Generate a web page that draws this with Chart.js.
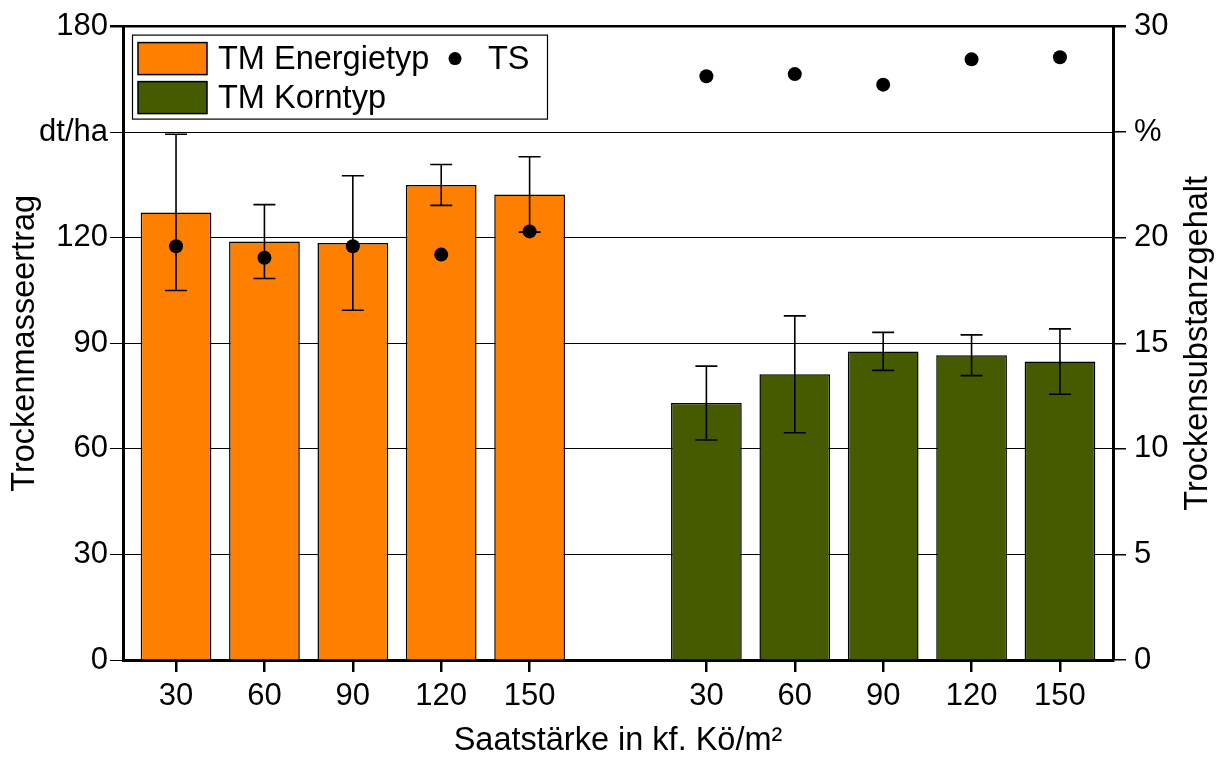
<!DOCTYPE html>
<html>
<head>
<meta charset="utf-8">
<title>Trockenmasseertrag und Trockensubstanzgehalt</title>
<script src="https://cdn.jsdelivr.net/npm/chart.js@4/dist/chart.umd.min.js"></script>
<style>
  html, body { margin: 0; padding: 0; background: #fff; }
  #wrap { width: 1224px; height: 757px; }
</style>
</head>
<body>
<div id="wrap"><canvas id="c" width="1224" height="757"></canvas></div>
<script>
// Saatstärke (kf. Kö/m²) – same steps for both types
const saatstaerke = ['30', '60', '90', '120', '150'];

// Trockenmasseertrag in dt/ha (mean and standard deviation)
const energieTM = [127.2, 118.9, 118.5, 135.0, 132.3];
const energieSD = [22.2, 10.5, 19.1, 5.8, 10.7];
const kornTM = [73.0, 81.2, 87.7, 86.6, 84.8];
const kornSD = [10.5, 16.6, 5.4, 5.8, 9.3];

// Trockensubstanzgehalt in %
const energieTS = [19.6, 19.05, 19.6, 19.2, 20.3];
const kornTS = [27.65, 27.75, 27.25, 28.45, 28.55];

// Axis tick labels (unit shown in place of one tick value)
const tmTickLabels = ['0', '30', '60', '90', '120', 'dt/ha', '180'];
const tsTickLabels = ['0', '5', '10', '15', '20', '%', '30'];

const FONT = '"Liberation Sans", Arial, Helvetica, sans-serif';
const TICK_SIZE = 31;
const TEXT_SIZE = 32.5;

// Slot index on the x axis: one empty slot separates the two groups
const GAP = 1;
const energieX = saatstaerke.map((_, i) => i);
const kornX = saatstaerke.map((_, i) => i + saatstaerke.length + GAP);
const allX = energieX.concat(kornX);

const toPoints = (xs, ys) => xs.map((x, i) => ({ x: x, y: ys[i] }));

// Whiskers for ± standard deviation, drawn right after each bar dataset
const errorBarPlugin = {
  id: 'errorBars',
  afterDatasetDraw(chart, args) {
    const ds = chart.data.datasets[args.index];
    if (!ds.errorBars) return;
    const ctx = chart.ctx;
    const xs = chart.scales.x;
    const ys = chart.scales[ds.yAxisID || 'y'];
    ctx.save();
    ctx.strokeStyle = '#000';
    ctx.lineWidth = 1.6;
    ds.data.forEach((p, i) => {
      const err = ds.errorBars[i];
      const px = xs.getPixelForValue(p.x);
      const yTop = ys.getPixelForValue(p.y + err);
      const yBot = ys.getPixelForValue(p.y - err);
      const cap = 11;
      ctx.beginPath();
      ctx.moveTo(px, yTop); ctx.lineTo(px, yBot);
      ctx.moveTo(px - cap, yTop); ctx.lineTo(px + cap, yTop);
      ctx.moveTo(px - cap, yBot); ctx.lineTo(px + cap, yBot);
      ctx.stroke();
    });
    ctx.restore();
  }
};

// Framed legend in the upper left corner of the plot
const boxLegendPlugin = {
  id: 'boxLegend',
  afterDraw(chart) {
    const { ctx, chartArea } = chart;
    const ds = chart.data.datasets;
    const x0 = chartArea.left + 9;
    const y0 = chartArea.top + 8;
    const w = 416, h = 85;
    ctx.save();
    ctx.fillStyle = '#fff';
    ctx.fillRect(x0, y0, w, h);
    ctx.strokeStyle = '#000';
    ctx.lineWidth = 1.2;
    ctx.strokeRect(x0 + 0.5, y0 + 0.5, w - 1, h - 1);

    ctx.font = TEXT_SIZE + 'px ' + FONT;
    ctx.textBaseline = 'middle';
    ctx.textAlign = 'left';
    [[ds[0], y0 + 8], [ds[1], y0 + 47]].forEach(([d, y]) => {
      ctx.fillStyle = d.backgroundColor;
      ctx.fillRect(x0 + 6, y, 69, 32);
      ctx.lineWidth = 1.5;
      ctx.strokeStyle = '#000';
      ctx.strokeRect(x0 + 6, y, 69, 32);
      ctx.fillStyle = '#000';
      ctx.fillText(d.label, x0 + 86, y + 17);
    });

    ctx.fillStyle = ds[2].backgroundColor;
    ctx.beginPath();
    ctx.arc(x0 + 323, y0 + 24, 6.5, 0, Math.PI * 2);
    ctx.fill();
    ctx.fillStyle = '#000';
    ctx.fillText(ds[2].label, x0 + 356, y0 + 25);
    ctx.restore();
  }
};

// Right axis title, reading bottom to top like the left one
const rightTitlePlugin = {
  id: 'rightTitle',
  afterDraw(chart) {
    const s = chart.scales.y2;
    const ctx = chart.ctx;
    ctx.save();
    ctx.translate(s.right - 26, (s.top + s.bottom) / 2);
    ctx.rotate(-Math.PI / 2);
    ctx.font = TEXT_SIZE + 'px ' + FONT;
    ctx.fillStyle = '#000';
    ctx.textAlign = 'center';
    ctx.textBaseline = 'middle';
    ctx.fillText('Trockensubstanzgehalt', 0, 0);
    ctx.restore();
  }
};

new Chart(document.getElementById('c'), {
  type: 'bar',
  data: {
    datasets: [
      {
        label: 'TM Energietyp',
        data: toPoints(energieX, energieTM),
        errorBars: energieSD,
        backgroundColor: '#FF8000',
        borderColor: '#000',
        borderWidth: 1.5,
        grouped: false,
        categoryPercentage: 1,
        barPercentage: 0.8,
        order: 1
      },
      {
        label: 'TM Korntyp',
        data: toPoints(kornX, kornTM),
        errorBars: kornSD,
        backgroundColor: '#465A00',
        borderColor: '#000',
        borderWidth: 1.5,
        grouped: false,
        categoryPercentage: 1,
        barPercentage: 0.8,
        order: 1
      },
      {
        type: 'scatter',
        label: 'TS',
        yAxisID: 'y2',
        data: toPoints(energieX, energieTS).concat(toPoints(kornX, kornTS)),
        backgroundColor: '#000',
        borderColor: '#000',
        pointRadius: 7,
        pointBorderWidth: 0,
        showLine: false,
        order: 0
      }
    ]
  },
  options: {
    responsive: false,
    devicePixelRatio: 1,
    animation: false,
    layout: { padding: { top: 24, right: 0, bottom: 0, left: 0 } },
    plugins: {
      legend: { display: false },
      tooltip: { enabled: false }
    },
    scales: {
      x: {
        type: 'linear',
        position: 'bottom',
        min: -0.6,
        max: 10.6,
        offset: false,
        afterBuildTicks(scale) {
          scale.ticks = allX.map(v => ({ value: v }));
        },
        afterFit(scale) { scale.height = 97; },
        ticks: {
          autoSkip: false,
          maxRotation: 0,
          padding: 6,
          color: '#000',
          font: { family: FONT, size: TICK_SIZE },
          callback: (v) => saatstaerke[v % (saatstaerke.length + GAP)]
        },
        grid: {
          offset: false,
          drawOnChartArea: false,
          drawTicks: true,
          tickLength: 12,
          lineWidth: 2.5,
          color: '#000'
        },
        border: { display: true, color: '#000', width: 3 },
        title: {
          display: true,
          text: 'Saatstärke in kf. Kö/m²',
          color: '#000',
          font: { family: FONT, size: TEXT_SIZE, lineHeight: 1.0 },
          padding: { top: 0, bottom: 0 }
        }
      },
      y: {
        position: 'left',
        min: 0,
        max: 180,
        afterFit(scale) { scale.width = 123; },
        ticks: {
          stepSize: 30,
          padding: 2,
          color: '#000',
          font: { family: FONT, size: TICK_SIZE },
          callback: (v, i) => tmTickLabels[i]
        },
        grid: {
          color: '#000',
          lineWidth: (c) => (c.tick && c.tick.value === 180 ? 2.5 : 1),
          drawTicks: true,
          tickLength: 13
        },
        border: { display: true, color: '#000', width: 3 },
        title: {
          display: true,
          text: 'Trockenmasseertrag',
          color: '#000',
          font: { family: FONT, size: TEXT_SIZE },
          padding: { top: 6, bottom: 0 }
        }
      },
      y2: {
        position: 'right',
        min: 0,
        max: 30,
        afterFit(scale) { scale.width = 111; },
        ticks: {
          stepSize: 5,
          padding: 8,
          color: '#000',
          font: { family: FONT, size: TICK_SIZE },
          callback: (v, i) => tsTickLabels[i]
        },
        grid: {
          color: '#000',
          lineWidth: (c) => (c.tick && c.tick.value === 30 ? 2.5 : 1.5),
          drawOnChartArea: false,
          drawTicks: true,
          tickLength: 13
        },
        border: { display: true, color: '#000', width: 3 }
      }
    }
  },
  plugins: [errorBarPlugin, boxLegendPlugin, rightTitlePlugin]
});
</script>
</body>
</html>
